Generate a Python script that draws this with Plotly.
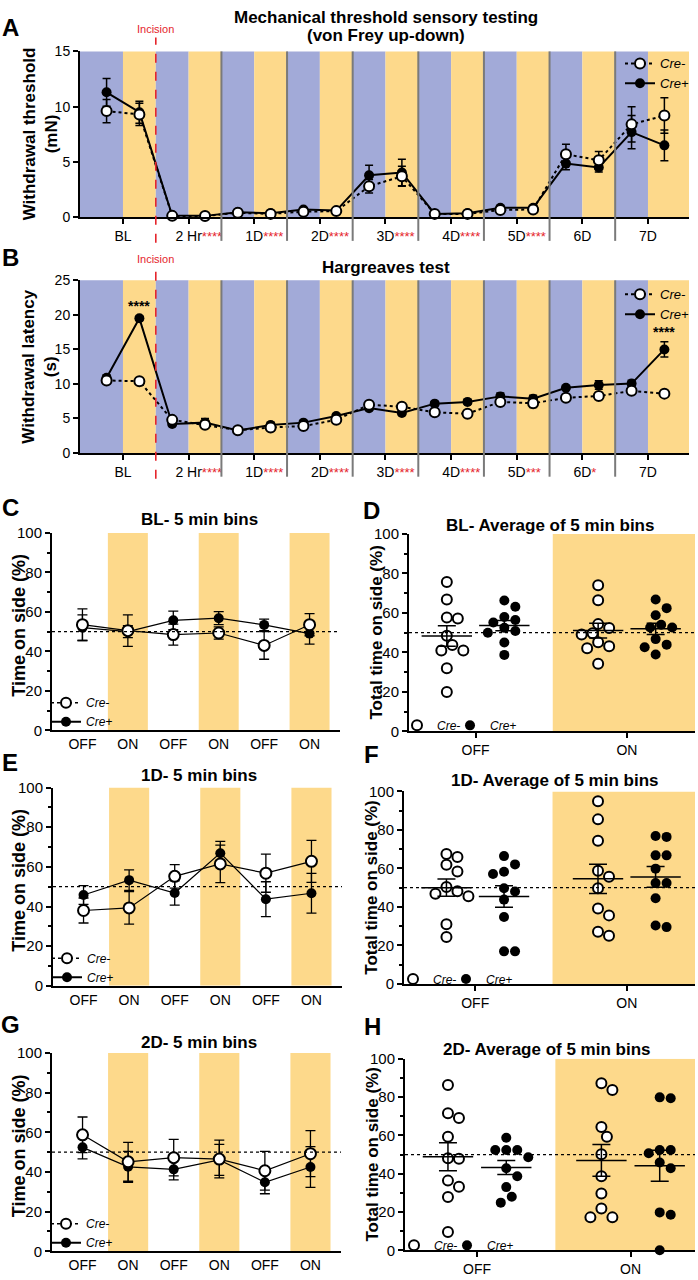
import numpy as np
import plotly.graph_objects as go

W, H = 698, 1280
FONT = "Liberation Sans, Arial, Helvetica, sans-serif"
BLUE = "#A2AAD8"
YELLOW = "#FDD98B"
RED = "#E5252C"
GRAY = "#7A7A7A"

# ---------------- A & B: time course data ----------------
day_groups = ["BL", "2 Hr", "1D", "2D", "3D", "4D", "5D", "6D", "7D"]
stars_vf = ["", "****", "****", "****", "****", "****", "****", "", ""]
stars_hg = ["", "****", "****", "****", "****", "****", "***", "*", ""]

vf_cre_neg = [9.6, 9.3, 0.12, 0.1, 0.4, 0.3, 0.5, 0.55, 2.8, 3.7, 0.3, 0.3, 0.65, 0.7, 5.7, 5.15, 8.4, 9.2]
vf_cre_neg_sem = [1.05, 1.0, 0.05, 0.05, 0.1, 0.1, 0.1, 0.1, 0.6, 0.9, 0.05, 0.05, 0.1, 0.1, 0.9, 0.8, 1.6, 1.6]
vf_cre_pos = [11.3, 9.5, 0.15, 0.12, 0.45, 0.35, 0.7, 0.6, 3.8, 4.05, 0.3, 0.35, 0.85, 0.85, 4.85, 4.5, 7.7, 6.5]
vf_cre_pos_sem = [1.25, 1.0, 0.05, 0.05, 0.1, 0.1, 0.15, 0.1, 0.9, 1.2, 0.05, 0.05, 0.15, 0.1, 0.55, 0.4, 1.5, 1.4]

hg_cre_neg = [10.5, 10.4, 4.8, 4.1, 3.3, 3.7, 3.9, 4.8, 7.0, 6.7, 5.9, 5.7, 7.4, 7.2, 8.0, 8.25, 9.0, 8.6]
hg_cre_neg_sem = [0.3, 0.3, 0.3, 0.4, 0.3, 0.3, 0.3, 0.3, 0.3, 0.3, 0.3, 0.3, 0.4, 0.6, 0.3, 0.4, 0.4, 0.4]
hg_cre_pos = [10.9, 19.5, 4.2, 4.4, 3.25, 4.05, 4.4, 5.35, 6.5, 5.8, 7.15, 7.4, 8.2, 7.85, 9.45, 9.85, 10.05, 15.0]
hg_cre_pos_sem = [0.4, 0.3, 0.3, 0.6, 0.3, 0.4, 0.3, 0.3, 0.3, 0.3, 0.3, 0.3, 0.5, 0.5, 0.3, 0.6, 0.5, 1.1]
hg_point_stars = ["", "****", "", "", "", "", "", "", "", "", "", "", "", "", "", "", "", "****"]

# ---------------- C, E, G: 5 min bins ----------------
bin_labels = ["OFF", "ON", "OFF", "ON", "OFF", "ON"]

bl_bins_neg = [53.5, 50.5, 48.5, 49.3, 43.0, 53.5]
bl_bins_neg_sem = [8.0, 8.0, 5.3, 3.1, 7.0, 5.6]
bl_bins_pos = [52.0, 50.0, 55.7, 56.8, 53.4, 49.0]
bl_bins_pos_sem = [6.5, 3.0, 4.7, 3.3, 2.9, 5.3]

d1_bins_neg = [38.0, 39.3, 55.2, 61.5, 56.8, 62.8]
d1_bins_neg_sem = [6.3, 8.2, 5.9, 9.5, 9.6, 10.6]
d1_bins_pos = [45.8, 53.3, 46.8, 66.9, 43.7, 46.7]
d1_bins_pos_sem = [4.7, 5.2, 6.1, 5.9, 8.8, 10.0]

d2_bins_neg = [58.7, 45.1, 47.2, 46.5, 40.6, 49.2]
d2_bins_neg_sem = [9.0, 9.8, 9.2, 9.5, 9.8, 11.6]
d2_bins_pos = [52.4, 42.6, 41.3, 46.1, 34.8, 42.5]
d2_bins_pos_sem = [5.8, 7.8, 5.3, 7.8, 5.8, 10.3]

# ---------------- D, F, H: individual animals ----------------
avg_labels = ["OFF", "ON"]

bl_off_neg = [75.6, 66.8, 57.1, 57.6, 48.4, 43.7, 40.9, 40.9, 31.9, 19.9]
bl_off_pos = [66.3, 63.1, 57.9, 56.4, 55.1, 52.4, 50.8, 49.9, 45.0, 38.7]
bl_on_neg = [74.0, 66.4, 54.3, 52.3, 49.7, 49.0, 45.1, 43.1, 42.1, 34.2]
bl_on_pos = [66.8, 62.4, 58.8, 54.0, 52.6, 52.6, 46.7, 43.9, 42.6, 38.9]

d1_off_neg = [67.5, 66.0, 61.9, 58.4, 50.3, 48.2, 46.8, 45.5, 31.0, 24.4]
d1_off_pos = [66.4, 62.1, 58.3, 57.1, 49.7, 48.0, 43.8, 34.8, 16.9, 16.9]
d1_on_neg = [94.9, 85.5, 74.4, 58.8, 55.7, 49.7, 39.2, 35.6, 27.1, 25.0]
d1_on_pos = [76.9, 76.4, 66.8, 66.8, 59.9, 52.4, 52.4, 44.5, 30.3, 29.5]

d2_off_neg = [86.3, 71.6, 69.1, 59.3, 48.1, 47.8, 36.4, 33.2, 27.8, 9.5]
d2_off_pos = [58.8, 52.4, 52.4, 52.4, 48.6, 42.9, 38.7, 33.0, 28.0, 24.9]
d2_on_neg = [87.3, 83.7, 64.4, 59.3, 50.2, 38.7, 29.7, 21.8, 17.2, 17.2]
d2_on_pos = [79.9, 79.4, 52.4, 52.4, 50.7, 45.9, 42.9, 19.8, 18.6, 0.0]

# =========================================================
fig = go.Figure()
layout = {}
shapes = []
annotations = []


def ids(n):
    return ("x" if n == 1 else f"x{n}", "y" if n == 1 else f"y{n}",
            "xaxis" if n == 1 else f"xaxis{n}", "yaxis" if n == 1 else f"yaxis{n}")


def px_x(x):
    return x / W


def px_y(y):
    return 1 - y / H


def add_ann(text, x, y, size, color="black", angle=0, xanchor="center",
            yanchor="middle", xref="paper", yref="paper"):
    annotations.append(dict(text=text, x=x, y=y, xref=xref, yref=yref,
                            showarrow=False, textangle=angle,
                            xanchor=xanchor, yanchor=yanchor,
                            font=dict(family=FONT, size=size, color=color)))


def setup_axes(n, box, xrange, yrange, ydtick, xtickvals, xticktext,
               xfont, yfont, xticks, minor):
    xid, yid, xa, ya = ids(n)
    x0, y0, x1, y1 = box
    layout[xa] = dict(domain=[x0 / W, x1 / W], anchor=yid, range=xrange,
                      showgrid=False, zeroline=False, showline=True,
                      linecolor="black", linewidth=2, ticks=xticks, ticklen=5,
                      tickwidth=1.5, tickcolor="black", tickmode="array",
                      tickvals=xtickvals, ticktext=xticktext,
                      tickfont=dict(family=FONT, size=xfont, color="black"),
                      fixedrange=True)
    yd = dict(domain=[1 - y1 / H, 1 - y0 / H], anchor=xid, range=yrange,
              showgrid=False, zeroline=False, showline=True,
              linecolor="black", linewidth=2, ticks="outside", ticklen=5,
              tickwidth=1.5, tickcolor="black", tick0=0, dtick=ydtick,
              tickfont=dict(family=FONT, size=yfont, color="black"),
              fixedrange=True)
    if minor:
        yd["minor"] = dict(dtick=minor, ticks="outside", ticklen=3,
                           tickwidth=1.5, tickcolor="black")
    layout[ya] = yd
    return xid, yid


# ---------------- A & B ----------------
def time_course(n, box, yrange, ydtick, neg, neg_sem, pos, pos_sem, stars,
                ytitle, title_lines, letter, letter_y, inc_y, legname,
                point_stars=None):
    xr = [-0.31, 18.25]
    ticktext = []
    for lab, s in zip(day_groups, stars):
        if s:
            ticktext.append(f"<span style='color:rgba(0,0,0,0);font-size:13px'>{s}</span>{lab}"
                            f"<span style='color:{RED};font-size:13px'>{s}</span>")
        else:
            ticktext.append(lab)
    tickvals = [2 * i + 1 for i in range(len(day_groups))]
    xid, yid = setup_axes(n, box, xr, yrange, ydtick, tickvals, ticktext,
                          14, 14, "outside", None)
    x0, y0, x1, y1 = box
    ph = y1 - y0
    ng = len(day_groups)
    for i in range(ng):
        bx0 = 2 * i if i > 0 else xr[0]
        bx2 = 2 * i + 2 if i < ng - 1 else xr[1]
        shapes.append(dict(type="rect", xref=xid, yref=f"{yid} domain",
                           x0=bx0, x1=2 * i + 1, y0=0, y1=1, fillcolor=BLUE,
                           line=dict(width=0), layer="below"))
        shapes.append(dict(type="rect", xref=xid, yref=f"{yid} domain",
                           x0=2 * i + 1, x1=bx2, y0=0, y1=1, fillcolor=YELLOW,
                           line=dict(width=0), layer="below"))
    for i in range(2, ng):
        shapes.append(dict(type="line", xref=xid, yref=f"{yid} domain",
                           x0=2 * i, x1=2 * i, y0=-24 / ph, y1=1,
                           line=dict(color=GRAY, width=2), layer="above"))
    # incision
    shapes.append(dict(type="line", xref=xid, yref=f"{yid} domain",
                       x0=2, x1=2, y0=-26 / ph, y1=1 + (y0 - inc_y - 9) / ph,
                       line=dict(color=RED, width=1.6, dash="dash"),
                       layer="above"))
    add_ann("Incision", 2, px_y(inc_y), 11, color=RED, xref=xid)

    xs = [2 * i + k + 0.5 for i in range(ng) for k in (0, 1)]
    fig.add_trace(go.Scatter(
        x=xs, y=pos, mode="lines+markers", name="<i>Cre+</i>",
        error_y=dict(type="data", array=pos_sem, color="black",
                     thickness=1.5, width=4),
        line=dict(color="black", width=2),
        marker=dict(symbol="circle", size=10, color="black"),
        xaxis=xid, yaxis=yid, legend=legname, legendrank=2,
        cliponaxis=False))
    fig.add_trace(go.Scatter(
        x=xs, y=neg, mode="lines+markers", name="<i>Cre-</i>",
        error_y=dict(type="data", array=neg_sem, color="black",
                     thickness=1.5, width=4),
        line=dict(color="black", width=2, dash="dot"),
        marker=dict(symbol="circle", size=10, color="white",
                    line=dict(color="black", width=2)),
        xaxis=xid, yaxis=yid, legend=legname, legendrank=1,
        cliponaxis=False))
    if point_stars:
        for xv, v, e, s in zip(xs, pos, pos_sem, point_stars):
            if s:
                annotations.append(dict(text=f"<b>{s}</b>", x=xv, y=v + e,
                                        xref=xid, yref=yid, showarrow=False,
                                        xanchor="center", yanchor="bottom",
                                        font=dict(family=FONT, size=14,
                                                  color="black")))
    # titles
    for t, ty in title_lines:
        add_ann(f"<b>{t}</b>", px_x(386), px_y(ty), 17)
    add_ann(f"<b>{ytitle}</b>", px_x(40), px_y((y0 + y1) / 2), 17, angle=-90)
    add_ann(f"<b>{letter}</b>", px_x(10), px_y(letter_y), 24)


time_course(1, (80, 43, 689, 211), [0, 15], 5, vf_cre_neg, vf_cre_neg_sem,
            vf_cre_pos, vf_cre_pos_sem, stars_vf,
            "Withdrawal threshold<br>(mN)",
            [("Mechanical threshold sensory testing", 9),
             ("(von Frey up-down)", 27)], "A", 19, 20, "legend")
time_course(2, (80, 275, 689, 450), [0, 25], 5, hg_cre_neg, hg_cre_neg_sem,
            hg_cre_pos, hg_cre_pos_sem, stars_hg,
            "Withdrawal latency<br>(s)", [("Hargreaves test", 262)], "B", 252,
            253, "legend2", point_stars=hg_point_stars)


# ---------------- C, E, G ----------------
def bins_panel(n, box, neg, neg_sem, pos, pos_sem, title, letter, letter_y,
               title_y, legname):
    xr = [-0.67, 5.67]
    xs = list(range(len(bin_labels)))
    xid, yid = setup_axes(n, box, xr, [0, 100], 20, xs, bin_labels, 14, 15,
                          "", 10)
    x0, y0, x1, y1 = box
    for xv, lab in zip(xs, bin_labels):
        if lab == "ON":
            shapes.append(dict(type="rect", xref=xid, yref=yid,
                               x0=xv - 0.44, x1=xv + 0.44, y0=0, y1=100,
                               fillcolor=YELLOW, line=dict(width=0),
                               layer="below"))
    shapes.append(dict(type="line", xref=f"{xid} domain", yref=yid, x0=0,
                       x1=1, y0=50, y1=50,
                       line=dict(color="black", width=1.3, dash="dot"),
                       layer="above"))
    fig.add_trace(go.Scatter(
        x=xs, y=pos, mode="lines+markers", showlegend=False,
        error_y=dict(type="data", array=pos_sem, color="black",
                     thickness=1.3, width=5),
        line=dict(color="black", width=1.2),
        marker=dict(symbol="circle", size=10, color="black"),
        xaxis=xid, yaxis=yid))
    fig.add_trace(go.Scatter(
        x=xs, y=neg, mode="lines+markers", showlegend=False,
        error_y=dict(type="data", array=neg_sem, color="black",
                     thickness=1.3, width=5),
        line=dict(color="black", width=1.2),
        marker=dict(symbol="circle", size=11, color="white",
                    line=dict(color="black", width=2)),
        xaxis=xid, yaxis=yid))
    fig.add_trace(go.Scatter(
        x=[None], y=[None], mode="lines+markers", name="<i>Cre-</i>",
        line=dict(color="black", width=1.5, dash="dot"),
        marker=dict(symbol="circle", size=10, color="white",
                    line=dict(color="black", width=2)),
        xaxis=xid, yaxis=yid, legend=legname, legendrank=1))
    fig.add_trace(go.Scatter(
        x=[None], y=[None], mode="lines+markers", name="<i>Cre+</i>",
        line=dict(color="black", width=2),
        marker=dict(symbol="circle", size=10, color="black"),
        xaxis=xid, yaxis=yid, legend=legname, legendrank=2))
    add_ann(f"<b>{title}</b>", px_x(199), px_y(title_y), 17)
    add_ann("<b>Time on side (%)</b>", px_x(19), px_y((y0 + y1) / 2 - 6), 18,
            angle=-90)
    add_ann(f"<b>{letter}</b>", px_x(10), px_y(letter_y), 24)


bins_panel(3, (52, 531, 340, 731), bl_bins_neg, bl_bins_neg_sem, bl_bins_pos,
           bl_bins_pos_sem, "BL- 5 min bins", "C", 505, 517, "legend3")
bins_panel(5, (53, 789, 342, 990), d1_bins_neg, d1_bins_neg_sem, d1_bins_pos,
           d1_bins_pos_sem, "1D- 5 min bins", "E", 764, 777, "legend5")
bins_panel(7, (52, 1058, 341, 1259), d2_bins_neg, d2_bins_neg_sem,
           d2_bins_pos, d2_bins_pos_sem, "2D- 5 min bins", "G", 1029, 1047,
           "legend7")


# ---------------- D, F, H ----------------
def swarm_offsets(vals, ppu_x, ppu_y, diam=11.0):
    vals = np.asarray(vals, float)
    order = np.argsort(-vals, kind="stable")
    placed = []
    offs = np.zeros(len(vals))
    h = diam / 2.0
    cands = [0.0]
    for k in range(1, 14):
        cands += [k * h, -k * h]
    for i in order:
        yp = vals[i] * ppu_y
        chosen = cands[-1]
        for c in cands:
            if all((c - a) ** 2 + (yp - b) ** 2 >= (diam * 0.97) ** 2
                   for a, b in placed):
                chosen = c
                break
        placed.append((chosen, yp))
        offs[i] = chosen / ppu_x
    return offs


def avg_panel(n, box, xr, off_neg, off_pos, on_neg, on_pos, title, letter,
              letter_xy, title_xy, leg_neg, leg_pos):
    xs_ticks = list(range(len(avg_labels)))
    xid, yid = setup_axes(n, box, xr, [0, 100], 20, xs_ticks, avg_labels, 14,
                          15, "outside", 10)
    x0, y0, x1, y1 = box
    ppu_x = (x1 - x0) / (xr[1] - xr[0])
    ppu_y = (y1 - y0) / 100.0
    shapes.append(dict(type="rect", xref=xid, yref=yid, x0=0.51, x1=xr[1],
                       y0=0, y1=100, fillcolor=YELLOW, line=dict(width=0),
                       layer="below"))
    shapes.append(dict(type="line", xref=f"{xid} domain", yref=yid, x0=0,
                       x1=1, y0=50, y1=50,
                       line=dict(color="black", width=1.3, dash="dot"),
                       layer="above"))
    groups = {"neg": [off_neg, on_neg], "pos": [off_pos, on_pos]}
    shift = {"neg": -0.19, "pos": 0.19}
    for key in ("neg", "pos"):
        px_all, py_all, mx, my, me = [], [], [], [], []
        for gi, vals in enumerate(groups[key]):
            center = xs_ticks[gi] + shift[key]
            offs = swarm_offsets(vals, ppu_x, ppu_y)
            px_all += list(center + offs)
            py_all += list(vals)
            arr = np.asarray(vals, float)
            mx.append(center)
            my.append(arr.mean())
            me.append(arr.std(ddof=1) / np.sqrt(len(arr)))
        if key == "neg":
            mk = dict(symbol="circle", size=10, color="white",
                      line=dict(color="black", width=2))
            nm, lg = "<i>Cre-</i>", leg_neg
        else:
            mk = dict(symbol="circle", size=10, color="black",
                      line=dict(color="black", width=0))
            nm, lg = "<i>Cre+</i>", leg_pos
        fig.add_trace(go.Scatter(x=px_all, y=py_all, mode="markers",
                                 marker=mk, name=nm, legend=lg,
                                 xaxis=xid, yaxis=yid, cliponaxis=False))
        fig.add_trace(go.Scatter(
            x=mx, y=my, mode="markers", showlegend=False,
            marker=dict(symbol="line-ew", size=36,
                        line=dict(color="black", width=1.5)),
            error_y=dict(type="data", array=me, color="black",
                         thickness=1.5, width=9),
            xaxis=xid, yaxis=yid))
    add_ann(f"<b>{title}</b>", px_x(title_xy[0]), px_y(title_xy[1]), 17)
    add_ann("<b>Total time on side (%)</b>", px_x(x0 - 32),
            px_y((y0 + y1) / 2), 17, angle=-90)
    add_ann(f"<b>{letter}</b>", px_x(letter_xy[0]), px_y(letter_xy[1]), 24)


avg_panel(4, (409, 532, 695, 732), [-0.44, 1.45], bl_off_neg, bl_off_pos,
          bl_on_neg, bl_on_pos, "BL- Average of 5 min bins", "D", (371, 508),
          (550, 523), "legend4", "legend9")
avg_panel(6, (404, 793, 695, 988), [-0.47, 1.45], d1_off_neg, d1_off_pos,
          d1_on_neg, d1_on_pos, "1D- Average of 5 min bins", "F", (371, 756),
          (555, 782), "legend6", "legend10")
avg_panel(8, (405, 1064, 695, 1258), [-0.47, 1.42], d2_off_neg, d2_off_pos,
          d2_on_neg, d2_on_pos, "2D- Average of 5 min bins", "H", (372, 1031),
          (547, 1054), "legend8", "legend11")

# ---------------- legends ----------------
def leg(x, y, yanchor, size=12):
    return dict(x=px_x(x), y=px_y(y), xanchor="left", yanchor=yanchor,
                bgcolor="rgba(0,0,0,0)", borderwidth=0, itemwidth=30,
                tracegroupgap=0, traceorder="normal", itemclick=False,
                font=dict(family=FONT, size=size, color="black"))


layout["legend"] = leg(620, 40, "top", 13)
layout["legend2"] = leg(620, 274, "top", 13)
layout["legend3"] = leg(46, 737, "bottom")
layout["legend5"] = leg(47, 996, "bottom")
layout["legend7"] = leg(46, 1265, "bottom")
layout["legend4"] = leg(397, 726, "middle")
layout["legend9"] = leg(450, 726, "middle")
layout["legend6"] = leg(393, 983, "middle")
layout["legend10"] = leg(446, 983, "middle")
layout["legend8"] = leg(394, 1253, "middle")
layout["legend11"] = leg(447, 1253, "middle")

fig.update_layout(
    width=W, height=H, margin=dict(l=0, r=0, t=0, b=0),
    paper_bgcolor="white", plot_bgcolor="rgba(0,0,0,0)",
    font=dict(family=FONT, color="black"), showlegend=True,
    shapes=shapes, annotations=annotations, **layout)

fig.write_html("out.html", config={"displayModeBar": False},
               post_script="document.body.style.margin='0';document.body.style.padding='0';")
